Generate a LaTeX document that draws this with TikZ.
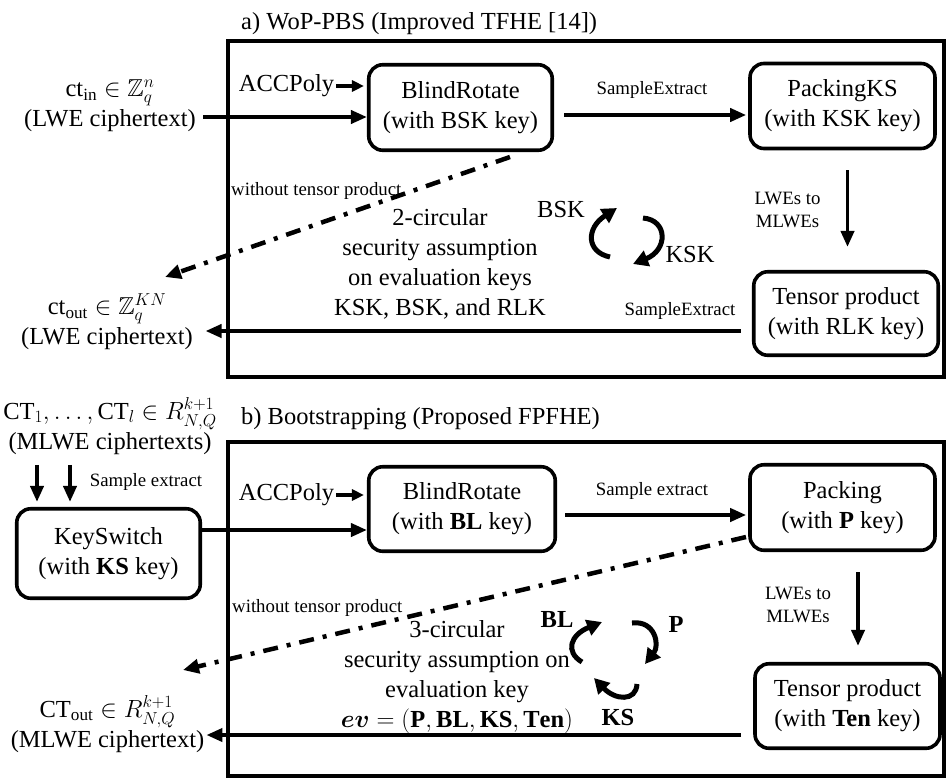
\documentclass[tikz,border=0pt]{standalone}
\usepackage{amsmath,amssymb,bm}
\usepackage{fontspec}
\setmainfont{Liberation Serif}
\usetikzlibrary{arrows.meta}
\newcommand\bigf{\fontsize{24.5}{30}\selectfont\lineskiplimit=-30pt\relax}
\newcommand\smf{\fontsize{18.8}{23}\selectfont\lineskiplimit=-30pt\relax}
\begin{document}
\begin{tikzpicture}[x=1pt,y=-1pt,
  box/.style={draw,line width=3.6pt,rounded corners=14pt,align=center,font=\bigf,inner sep=0pt,minimum width=185pt,minimum height=85pt},
  frame/.style={line width=4pt},
  conn/.style={line width=3.8pt,-{Triangle[length=16pt,width=13pt]}},
  sconn/.style={line width=3.5pt,-{Triangle[length=12pt,width=11pt]}},
  dd/.style={line width=4.5pt,dash pattern=on 15pt off 9pt on 4pt off 9pt,-{Triangle[length=16pt,width=14pt]}},
  circ/.style={line width=5pt,-{Triangle[length=15pt,width=16pt]}},
  lab/.style={font=\smf,inner sep=0pt},
  txt/.style={font=\bigf,align=center,inner sep=0pt},
]
\useasboundingbox (0,0) rectangle (947,780);

% ---------- a) ----------
\node[txt,anchor=base west] (ta) at (241,29) {a) WoP-PBS (Improved TFHE [14])};
\draw[frame] (228,41) rectangle (944,377);

\node[txt,inner xsep=7pt] (ctin) at (110,106) {$\mathrm{ct}_{\mathrm{in}} \in \mathbb{Z}_q^n$\\(LWE ciphertext)};
\node[txt,inner xsep=12.5pt] (ctout) at (107,322) {$\mathrm{ct}_{\mathrm{out}} \in \mathbb{Z}_q^{KN}$\\(LWE ciphertext)};

\node[box,minimum width=183.5pt,minimum height=85.5pt] (br1) at (460.5,107.5) {BlindRotate\\(with BSK key)};
\node[box] (pk1) at (842.5,106) {PackingKS\\(with KSK key)};
\node[box,minimum width=184.5pt,minimum height=83.5pt] (tp1) at (846,313.5) {Tensor product\\(with RLK key)};

\node[txt,inner xsep=2pt] (acc1) at (286.5,86) {ACCPoly};
\draw[sconn,shorten >=3pt] (acc1.east) -- (acc1.east -| br1.west);

\coordinate (a1) at ([yshift=-9.5pt]br1.west);
\draw[conn] (ctin.east |- a1) -- (a1);

\coordinate (s1) at ([yshift=-7.5pt]br1.east);
\node[lab] (se1) at (652,90) {SampleExtract};
\draw[conn,shorten <=10pt,shorten >=2pt] (s1) -- (s1 -| pk1.west);

\coordinate (v1) at ([xshift=5pt]pk1.south);
\node[lab,align=center] (lm1) at (787.5,210) {LWEs to\\MLWEs};
\draw[conn,shorten <=20pt,shorten >=23pt] (v1) -- (v1 |- tp1.north);

\coordinate (o1) at ([yshift=-17.5pt]tp1.west);
\node[lab] (se2) at (680,311) {SampleExtract};
\draw[conn,shorten <=11pt] (o1) -- (o1 -| ctout.east);

\coordinate (dds1) at (510,157);
\coordinate (dde1) at (165,277);
\draw[dd] (dds1) -- (dde1);
\node[lab,anchor=west] (wt1) at (231,191) {without tensor product};

\node[txt] (ca) at (440,264) {2-circular\\security assumption\\on evaluation keys\\KSK, BSK, and RLK};

\node[txt] (bsk) at (561,210) {BSK};
\node[txt] (ksk) at (690,255) {KSK};
\draw[circ] (610,257) .. controls (586,252) and (586,228) .. (617,208);
\draw[circ] (643,218) .. controls (668,220) and (668,250) .. (633,264);

% ---------- b) ----------
\node[txt,anchor=base west] (tb) at (241,424) {b) Bootstrapping (Proposed FPFHE)};
\draw[frame] (228,442) rectangle (944,776);

\node[txt] (ctb) at (110,426) {$\mathrm{CT}_1, \ldots, \mathrm{CT}_l \in R_{N,Q}^{k+1}$\\(MLWE ciphertexts)};
\node[txt,inner xsep=2pt] (ctout2) at (107.5,724) {$\mathrm{CT}_{\mathrm{out}} \in R_{N,Q}^{k+1}$\\(MLWE ciphertext)};

\node[box,minimum width=183.5pt,minimum height=89.5pt] (ks) at (108.5,553.5) {KeySwitch\\(with \textbf{KS} key)};
\node[box,minimum width=186.5pt,minimum height=84.5pt] (br2) at (462,509) {BlindRotate\\(with \textbf{BL} key)};
\node[box,minimum height=85.5pt] (pk2) at (842.5,507.5) {Packing\\(with \textbf{P} key)};
\node[box,minimum height=84.5pt] (tp2) at (847.5,706) {Tensor product\\(with \textbf{Ten} key)};

\draw[conn] ([xshift=-71.5pt,yshift=42pt]ks.north) -- ([xshift=-71.5pt,yshift=5pt]ks.north);
\draw[conn] ([xshift=-38.5pt,yshift=42pt]ks.north) -- ([xshift=-38.5pt,yshift=5pt]ks.north);
\node[lab] (se3) at (146,482) {Sample extract};

\node[txt,inner xsep=2pt] (acc2) at (286.5,495) {ACCPoly};
\draw[sconn,shorten >=3pt] (acc2.east) -- (acc2.east -| br2.west);

\coordinate (k2) at ([yshift=-21pt]br2.west);
\draw[conn] (ks.east |- k2) -- (k2);

\coordinate (s2) at ([yshift=-6pt]br2.east);
\node[lab] (se4) at (652,491) {Sample extract};
\draw[conn,shorten <=8pt,shorten >=2pt] (s2) -- (s2 -| pk2.west);

\coordinate (v2) at ([xshift=15.5pt]pk2.south);
\node[lab,align=center] (lm2) at (798,605) {LWEs to\\MLWEs};
\draw[conn,shorten <=20pt,shorten >=16pt] (v2) -- (v2 |- tp2.north);

\coordinate (o2) at ([yshift=-29pt]tp2.west);
\draw[conn,shorten <=12pt] (o2) -- (o2 -| ctout2.east);

\coordinate (dds2) at (746,537);
\coordinate (dde2) at (183,670);
\draw[dd] (dds2) -- (dde2);
\node[lab,anchor=west] (wt2) at (232,608) {without tensor product};

\node[txt] (cb) at (457,677) {3-circular\\security assumption on\\evaluation key\\$\boldsymbol{ev} = (\mathbf{P}, \mathbf{BL}, \mathbf{KS}, \mathbf{Ten})$};

\node[txt,font=\bigf\bfseries] (bl) at (557,620) {BL};
\node[txt,font=\bigf\bfseries] (pp) at (676,624) {P};
\node[txt,font=\bigf\bfseries] (kss) at (618,717) {KS};
\draw[circ] (582,662) .. controls (565,652) and (570,635) .. (602,622);
\draw[circ] (632,623) .. controls (655,620) and (660,645) .. (645,664);
\draw[circ] (637,684) .. controls (636,702) and (615,700) .. (594,678);
\end{tikzpicture}
\end{document}
